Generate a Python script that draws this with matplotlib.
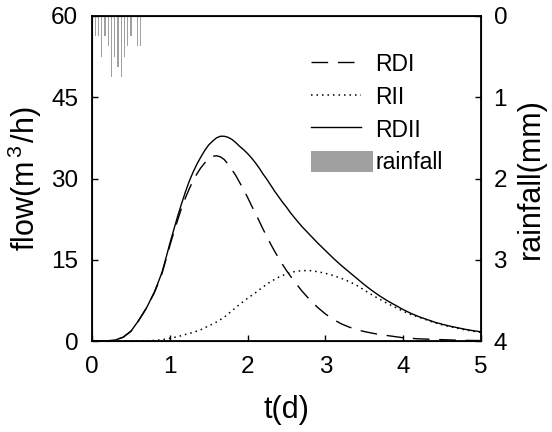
import matplotlib
matplotlib.use("Agg")
import matplotlib.pyplot as plt
import numpy as np

plt.rcParams['font.family'] = ['Liberation Sans', 'DejaVu Sans']
plt.rcParams['mathtext.fontset'] = 'custom'
plt.rcParams['mathtext.rm'] = 'Liberation Sans'
plt.rcParams['mathtext.it'] = 'Liberation Sans'

# time (days)
t = ([0.0, 0.1, 0.2, 0.3, 0.4, 0.5, 0.6, 0.7]
     + [round(0.8 + 0.05 * i, 2) for i in range(37)]
     + [round(2.7 + 0.1 * i, 1) for i in range(24)])

rdi = [0, 0, 0.05, 0.2, 0.7, 1.8, 3.8, 6.1,
       8.9, 10.6, 12.5, 15.0, 17.6, 20.0, 22.3, 24.5, 26.4, 28.1,
       29.6, 30.9, 32.0, 32.9, 33.6, 34.1, 34.2, 34.0, 33.5, 32.6,
       31.6, 30.5, 29.2, 27.9, 26.5, 25.0, 23.6, 22.1, 20.6, 19.2,
       17.8, 16.5, 15.3, 14.1, 13.0, 12.0, 11.0,
       9.2, 7.6, 6.2, 5.0, 4.0, 3.2, 2.6, 2.1, 1.75, 1.45, 1.2, 1.0, 0.8,
       0.6, 0.5, 0.4, 0.35, 0.3, 0.25, 0.2, 0.15, 0.12, 0.1, 0.08]

rii = [0, 0, 0, 0, 0, 0, 0, 0.02,
       0.1, 0.17, 0.25, 0.37, 0.5, 0.65, 0.8, 1.0, 1.2, 1.4,
       1.6, 1.85, 2.1, 2.45, 2.8, 3.15, 3.5, 3.95, 4.4, 5.0,
       5.6, 6.2, 6.8, 7.35, 7.9, 8.4, 8.9, 9.45, 10.0, 10.5,
       11.0, 11.4, 11.8, 12.1, 12.4, 12.6, 12.8,
       13.0, 13.0, 12.8, 12.5, 12.1, 11.6, 11.0, 10.3, 9.4, 8.5, 7.7, 6.9, 6.2,
       5.5, 4.9, 4.4, 3.9, 3.4, 3.0, 2.65, 2.35, 2.05, 1.8, 1.6]

rdii = [0, 0, 0.05, 0.2, 0.7, 1.8, 3.8, 6.1,
        9.0, 10.8, 12.7, 15.3, 18.0, 20.5, 23.0, 25.3, 27.5, 29.5,
        31.2, 32.7, 34.0, 35.2, 36.2, 36.9, 37.5, 37.8, 37.8, 37.6,
        37.2, 36.6, 35.9, 35.3, 34.6, 33.8, 32.9, 31.9, 30.8, 29.8,
        28.7, 27.6, 26.6, 25.6, 24.7, 23.7, 22.8,
        21.1, 19.6, 18.1, 16.7, 15.3, 14.0, 12.8, 11.6, 10.4, 9.3, 8.3, 7.4, 6.6,
        5.8, 5.1, 4.5, 4.0, 3.5, 3.1, 2.75, 2.45, 2.15, 1.9, 1.7]

# hourly rainfall (mm)
rain_hour = list(range(16))
rain = [0.125, 0.25, 0.25, 0.5, 0.25, 0.375, 0.75, 0.5,
        0.625, 0.75, 0.5, 0.375, 0.25, 0.0, 0.375, 0.375]

fig = plt.figure(figsize=(5.52, 4.32), dpi=100)
ax = fig.add_axes([0.1667, 0.2106, 0.7047, 0.7524])

l1, = ax.plot(t, rdi, color='black', lw=1.0, linestyle=(0, (12, 7)), label='RDI')
l2, = ax.plot(t, rii, color='black', lw=1.1, linestyle=(0, (1, 2.6)), label='RII')
l3, = ax.plot(t, rdii, color='black', lw=1.0, linestyle='-', label='RDII')

ax.set_xlim(0, 5)
ax.set_ylim(0, 60)
ax.set_xticks([0, 1, 2, 3, 4, 5])
ax.set_yticks([0, 15, 30, 45, 60])
ax.tick_params(direction='in', labelsize=17.5, length=4, width=1.0,
               top=False, right=False)
ax.tick_params(axis='x', pad=11)
ax.tick_params(axis='y', pad=10)
ax.set_xlabel('t(d)', fontsize=22, labelpad=12)
ax.set_ylabel(r'flow(m$^{\,3\,}$/h)', fontsize=22, labelpad=5)
for s in ax.spines.values():
    s.set_linewidth(1.3)

ax2 = ax.twinx()
rain_t = [h / 24 for h in rain_hour]
bars = ax2.bar(rain_t, rain, width=0.016, color='#a0a0a0', align='center',
               label='rainfall')
ax2.set_ylim(4, 0)
ax2.set_yticks([0, 1, 2, 3, 4])
ax2.tick_params(direction='in', labelsize=17.5, length=4, width=1.0, pad=9)
ax2.set_ylabel('rainfall(mm)', fontsize=22, labelpad=6)
ax2.set_xlim(0, 5)

leg = ax2.legend([l1, l2, l3, bars[0]], ['RDI', 'RII', 'RDII', 'rainfall'],
                 loc='upper left', bbox_to_anchor=(0.51, 0.95),
                 frameon=False, fontsize=16.5, handlelength=2.2,
                 handleheight=1.05, labelspacing=0.4, handletextpad=0.6)
leg.legend_handles[3].set_width(44.5)

fig.savefig('out.png', dpi=100)
